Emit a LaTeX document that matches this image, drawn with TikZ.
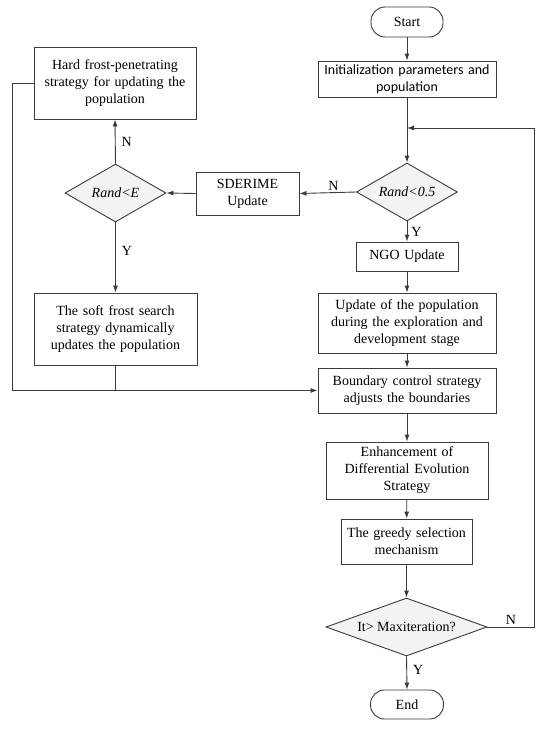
\documentclass[tikz,border=0pt]{standalone}
\usepackage{fontspec}
\setmainfont{Liberation Serif}
\newfontfamily\sansf{Carlito}
\usetikzlibrary{shapes.geometric,arrows.meta}
\definecolor{linec}{HTML}{3A3A3A}
\definecolor{dfill}{HTML}{F3F3F3}
\begin{document}
\begin{tikzpicture}[x=1pt,y=-1pt,
  every node/.style={font=\fontsize{14}{17}\selectfont, text=black},
  box/.style={draw=linec, fill=white, line width=0.9pt, align=center, inner sep=0pt},
  term/.style={box, rounded corners=14pt},
  dia/.style={diamond, draw=linec, fill=dfill, line width=0.9pt, inner sep=0pt, align=center},
  arr/.style={draw=linec, line width=0.9pt, -{Latex[length=7pt,width=5pt]}},
  ln/.style={draw=linec, line width=0.9pt},
  lab/.style={inner sep=2pt}]
\useasboundingbox (0,0) rectangle (550,731);
\fill[white] (0,0) rectangle (550,731);

\node[term, minimum width=72pt, minimum height=30pt] (start) at (407,22) {Start};
\node[box, text width=178pt, minimum height=36pt, font=\sansf\fontsize{14}{17}\selectfont] (init) at (407,79) {Initialization parameters and\\population};
\node[dia, aspect=1.74, minimum width=101pt, minimum height=58pt] (d1) at (407,192) {\textit{Rand<0.5}};
\node[box, text width=103pt, minimum height=43pt] (sde) at (247.5,193.5) {SDERIME\\Update};
\node[dia, aspect=1.74, minimum width=101pt, minimum height=58pt] (d2) at (115.5,193) {\textit{Rand<E}};
\node[box, text width=162pt, minimum height=72pt] (hard) at (115,83) {Hard frost-penetrating\\strategy for updating the\\population};
\node[box, text width=163pt, minimum height=72pt] (soft) at (115.5,329) {The soft frost search\\strategy dynamically\\updates the population};
\node[box, text width=102pt, minimum height=29pt] (ngo) at (407,256.5) {NGO Update};
\node[box, text width=178pt, minimum height=60pt] (upd) at (407,323) {Update of the population\\during the exploration and\\development stage};
\node[box, text width=178pt, minimum height=45pt] (bnd) at (407,390.5) {Boundary control strategy\\adjusts the boundaries};
\node[box, text width=162pt, minimum height=57pt] (enh) at (407,470.5) {Enhancement of\\Differential Evolution\\Strategy};
\node[box, text width=131pt, minimum height=45pt] (grd) at (406.5,541.5) {The greedy selection\\mechanism};
\node[dia, aspect=2.78, minimum width=161pt, minimum height=58pt] (d3) at (406.5,627) {It> Maxiteration?};
\node[term, minimum width=73pt, minimum height=29pt] (endn) at (407,704.5) {End};

\coordinate (lp) at (407,128);

\draw[arr] (start) -- (init);
\draw[arr] (init) -- (d1);
\draw[arr] (d1.west) -- node[lab, above, pos=0.4] {N} (sde.east);
\draw[arr] (sde.west) -- (d2.east);
\draw[arr] (d2.north) -- node[lab, right, xshift=4pt] {N} (hard.south);
\draw[arr] (d2.south) -- node[lab, right, xshift=4pt, pos=0.4] {Y} (soft.north);
\draw[arr] (d1.south) -- node[lab, right, xshift=2pt] {Y} (ngo.north);
\draw[arr] (ngo) -- (upd);
\draw[arr] (upd) -- (bnd);
\draw[arr] (bnd) -- (enh);
\draw[arr] (enh) -- (grd);
\draw[arr] (grd) -- (d3);
\draw[arr] (d3.south) -- node[lab, right, xshift=4pt, pos=0.4] {Y} (endn.north);
\draw[arr] (hard.west) -- ++(-21,0) |- (bnd.west);
\draw[ln] (soft.south) -- (soft.south |- bnd.west);
\draw[arr] (d3.east) -- node[lab, above] {N} ++(47,0) |- (lp);
\end{tikzpicture}
\end{document}
